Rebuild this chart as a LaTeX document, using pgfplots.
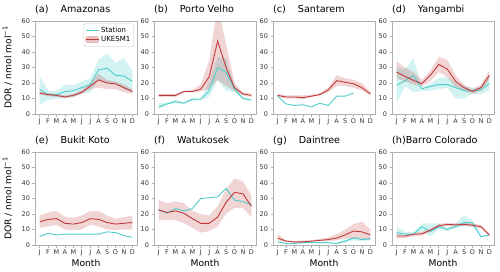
\documentclass[border=0pt]{standalone}
\usepackage{fontspec}
\setmainfont{DejaVu Sans}
\usepackage{pgfplots}
\usepackage{pgfplotstable}
\pgfplotsset{compat=1.18}
\usepgfplotslibrary{groupplots,fillbetween}
\definecolor{stc}{HTML}{4ECDCB}
\definecolor{ukc}{HTML}{C0393B}
\definecolor{framec}{HTML}{B0B0B0}
\definecolor{txtc}{HTML}{333333}

% columns: x station st_low st_high ukesm uk_low uk_high
\pgfplotstableread{
x st stlo sthi uk uklo ukhi
0 16 6 25 13.5 12.5 14.5
1 12.5 9 15 12.5 11.5 13.5
2 12.5 10 15 12 11 13
3 14.5 10 19 11 10.5 12
4 15 11 18.5 12 11 13
5 17 13 21 14 13 15.5
6 19 14 23 18 16 20
7 28.5 22 35 22 17 26
8 29.5 20 39 20 16 22
9 25 19 33 19.5 16 21
10 24.5 16 36 17 14 19
11 21 14 28 14.5 13 16
}\amazonas
\pgfplotstableread{
x st stlo sthi uk uklo ukhi
0 4.5 3 7 12 11 13
1 6.5 6 7.5 12 11 13
2 8 7 9 12 11 13
3 7 6.5 7.5 14.5 14 15
4 9.5 8.5 10.5 14.5 14 15.5
5 9.5 9 10 16 14.5 19
6 15 11 21 24 16 35
7 30 22 37 47 22 70
8 27 15 36 30 18 45
9 16 14 18 17 15 20
10 10 9.5 11 13 12 14
11 9 8.5 9.5 12 11 13
}\portovelho
\pgfplotstableread{
x st stlo sthi uk uklo ukhi
0 11.5 11.5 11.5 12 11 13
1 6.5 6.5 6.5 11 10 12
2 5.5 5.5 5.5 11 10 12
3 6 6 6 10.5 9.5 12
4 4.5 4.5 4.5 11.5 11 12.5
5 7 7 7 12.5 12 13.5
6 5.5 5.5 5.5 15.5 14 17
7 11.5 11.5 11.5 21.5 18 25
8 11.5 11.5 11.5 20.5 18 23
9 13.5 13.5 13.5 19.5 17 22
10 nan nan nan 17 15 20
11 nan nan nan 13 12 14
}\santarem
\pgfplotstableread{
x st stlo sthi uk uklo ukhi
0 18.5 7 30 27 23 34
1 21.5 18 29 24.3 21 30
2 24.7 14 36 21.7 19 27
3 16.3 15 17.5 19.6 18 22
4 17.8 15 19.5 25 21 28
5 19 16 23 32 27 37
6 19 17 24 29 24 35
7 17 10 20 21 17 25
8 15 10 18 17 15 19
9 14.8 13 17 14.6 13 16
10 15.7 13 17 17 15 19
11 19.6 15 25 25 22 28
}\yangambi
\pgfplotstableread{
x st stlo sthi uk uklo ukhi
0 5.5 5.5 5.5 15 11 19
1 7.5 7.5 7.5 16.5 12 21
2 6.5 6.5 6.5 17 13 22
3 7 7 7 14 10 18
4 7 7 7 13.5 9.5 17.5
5 7 7 7 14.5 10 19
6 7 7 7 17 13 22
7 7 7 7 16.5 12 22
8 8.5 8.5 8.5 14.5 10 19
9 8 8 8 13.5 9.5 17
10 6 6 6 14 10 18
11 5 5 5 14.5 10 19
}\bukitkoto
\pgfplotstableread{
x st stlo sthi uk uklo ukhi
0 23 23 23 22.5 16 29
1 20.5 20.5 20.5 21 16 27
2 23.5 23.5 23.5 22 16 28
3 22 22 22 20.5 14 27
4 23.5 23.5 23.5 17 11 22
5 30 30 30 14 8 20
6 30.5 30.5 30.5 14 9 19
7 31 31 31 18 12 25
8 36.5 36.5 36.5 27.5 20 36
9 29 29 29 34 24 43
10 28 28 28 33 24 41
11 26 26 26 25 18 32
}\watukosek
\pgfplotstableread{
x st stlo sthi uk uklo ukhi
0 2 1.5 2.5 4.5 3 7
1 1 0.8 1.2 2.5 2 3
2 1 0.8 1.2 2 1.5 2.5
3 1.5 1.2 1.8 2 1.5 3
4 1.5 1.2 1.8 2.5 2 3
5 1.5 1.2 1.8 3 2.5 4
6 1.5 1.2 1.8 3.5 2.5 5
7 1 0.7 1.5 4.5 3 7
8 2.5 1.5 3.5 6.5 4 10
9 4.5 3 5.5 9 4.5 13.5
10 3.5 2.5 4.5 8.5 4 15
11 4 3 4.5 6.5 3 10
}\daintree
\pgfplotstableread{
x st stlo sthi uk uklo ukhi
0 8 6 12 5.8 4 7
1 7 6.5 8.5 5.8 4.5 6.5
2 7 6.5 8.5 6.9 5.5 7.5
3 11.8 9 14 7.3 6 8.5
4 8.6 5.5 14 9.6 8.5 10.5
5 11.8 10 14 12.4 11.5 13.5
6 10 9 11 13.3 12.3 14.3
7 11.8 11 14 13 12 14
8 14.6 12 19 13.3 12.3 14.3
9 14.3 12 16 12.8 11.8 13.8
10 5.4 5 6 11.8 10.8 12.8
11 6.4 6 7 6.4 5.8 7.5
}\barrocolorado

\newcommand{\stband}[1]{%
  \addplot[name path=sl, draw=none, forget plot] table[x=x,y=stlo]{#1};
  \addplot[name path=sh, draw=none, forget plot] table[x=x,y=sthi]{#1};
  \addplot[fill=stc, fill opacity=0.25, draw=none, forget plot] fill between[of=sl and sh];}
\newcommand{\ukband}[1]{%
  \addplot[name path=ul, draw=none, forget plot] table[x=x,y=uklo]{#1};
  \addplot[name path=uh, draw=none, forget plot] table[x=x,y=ukhi]{#1};
  \addplot[fill=ukc, fill opacity=0.22, draw=none, forget plot] fill between[of=ul and uh];}
\newcommand{\lines}[1]{%
  \addplot[stc, line width=0.9pt, unbounded coords=jump,
    legend image code/.code={\draw[stc, line width=0.9pt] (0pt,0pt) -- (13pt,0pt);}] table[x=x,y=st]{#1};
  \addplot[ukc, line width=0.9pt,
    legend image code/.code={\fill[ukc!35] (0pt,-3pt) rectangle (13pt,3pt);
      \draw[ukc, line width=0.9pt] (0pt,0pt) -- (13pt,0pt);}] table[x=x,y=uk]{#1};}

\begin{document}
\begin{tikzpicture}
\begin{groupplot}[
  group style={group size=4 by 2, horizontal sep=17pt, vertical sep=38pt, group name=G},
  width=102pt, height=93pt, scale only axis,
  xmin=-0.55, xmax=11.55, ymin=0, ymax=60,
  xtick={0,...,11}, xticklabels={J,F,M,A,M,J,J,A,S,O,N,D},
  ytick={0,10,...,60},
  axis line style={framec, line width=0.6pt},
  tick align=outside, major tick length=2.5pt,
  tick style={framec, line width=0.6pt},
  xtick pos=bottom, ytick pos=left,
  ticklabel style={font=\fontsize{6.5}{7}\selectfont, text=txtc},
  /pgf/number format/assume math mode=true,
  xticklabel style={yshift=1pt},
  yticklabel style={xshift=1pt},
  every axis title/.style={at={(0,1)}, anchor=base west, yshift=8.5pt, font=\fontsize{9.6}{11}\selectfont, inner sep=0pt},
  ylabel style={at={(axis description cs:-0.27,0.5)}, anchor=center, font=\fontsize{9.2}{11}\selectfont},
  xlabel style={at={(axis description cs:0.5,-0.19)}, anchor=center, font=\fontsize{9.2}{11}\selectfont},
  legend style={at={(0.97,0.975)}, anchor=north east, draw=framec!70, rounded corners=1.5pt,
    font=\fontsize{7}{8}\selectfont, row sep=-1.5pt, inner sep=1.5pt, fill=white, fill opacity=0.85, text opacity=1},
  legend cell align=left,
]
\nextgroupplot[title={(a)\hspace{12pt}Amazonas}, ylabel={DOR / nmol mol\textsuperscript{−1}}]
\stband{\amazonas}\ukband{\amazonas}\lines{\amazonas}
\legend{Station,UKESM1}
\nextgroupplot[title={(b)\hspace{12pt}Porto Velho}]
\stband{\portovelho}\ukband{\portovelho}\lines{\portovelho}
\nextgroupplot[title={(c)\hspace{12pt}Santarem}]
\ukband{\santarem}\lines{\santarem}
\nextgroupplot[title={(d)\hspace{12pt}Yangambi}]
\stband{\yangambi}\ukband{\yangambi}\lines{\yangambi}
\nextgroupplot[title={(e)\hspace{12pt}Bukit Koto}, ylabel={DOR / nmol mol\textsuperscript{−1}}, xlabel={Month}]
\ukband{\bukitkoto}\lines{\bukitkoto}
\nextgroupplot[title={(f)\hspace{12pt}Watukosek}, xlabel={Month}]
\ukband{\watukosek}\lines{\watukosek}
\nextgroupplot[title={(g)\hspace{12pt}Daintree}, xlabel={Month}]
\stband{\daintree}\ukband{\daintree}\lines{\daintree}
\nextgroupplot[title={(h)Barro Colorado}, xlabel={Month}]
\stband{\barrocolorado}\ukband{\barrocolorado}\lines{\barrocolorado}
\end{groupplot}
\pgfresetboundingbox
\path[use as bounding box] (G c1r1.north west) ++(-35pt,21pt) rectangle ++(500pt,-271pt);
\end{tikzpicture}
\end{document}
